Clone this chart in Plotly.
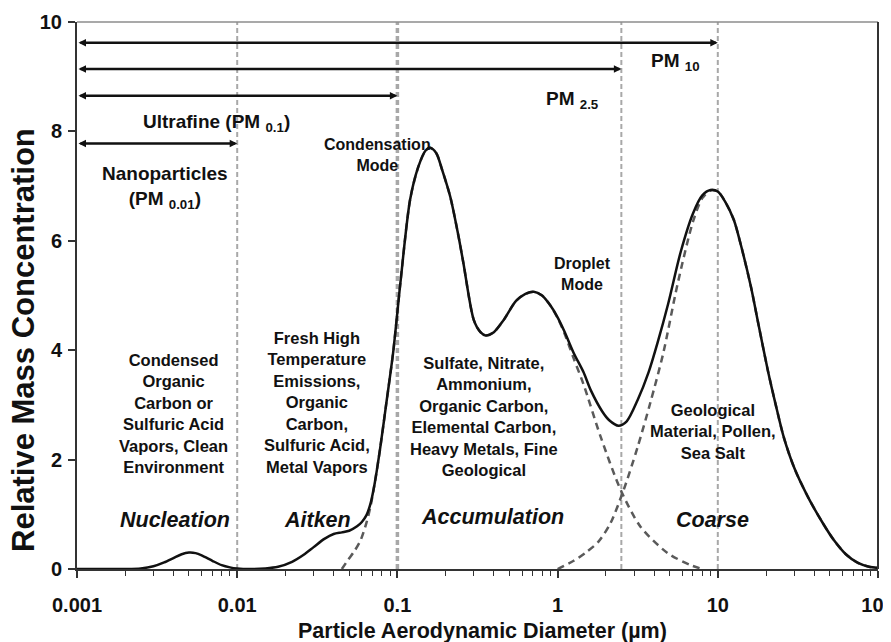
import numpy as np
import plotly.graph_objects as go

# ---------------- data ----------------
# total relative mass concentration (solid curve)
total_d = [0.001, 0.002, 0.0025, 0.003, 0.0035, 0.004, 0.0045, 0.005, 0.0055, 0.006,
           0.007, 0.008, 0.009, 0.01, 0.012, 0.015, 0.018, 0.022, 0.026, 0.03,
           0.035, 0.04, 0.045, 0.05, 0.056, 0.06, 0.064, 0.068, 0.072, 0.078,
           0.085, 0.094, 0.1, 0.105, 0.12, 0.135, 0.15, 0.16, 0.175, 0.19,
           0.214, 0.24, 0.258, 0.3, 0.33, 0.355, 0.4, 0.46, 0.55, 0.63,
           0.71, 0.8, 0.9, 1.0, 1.1, 1.26, 1.45, 1.61, 1.9, 2.1,
           2.4, 2.7, 3.16, 3.7, 4.2, 4.9, 5.87, 7, 8, 9,
           10, 11.2, 12.6, 14, 16.1, 18, 20.5, 23, 25.8, 30,
           36.5, 45, 53, 63, 75, 88, 100]
total_c = [0.0, 0.0, 0.01, 0.05, 0.12, 0.2, 0.27, 0.3, 0.29, 0.25,
           0.15, 0.07, 0.03, 0.01, 0.0, 0.01, 0.04, 0.13, 0.26, 0.40,
           0.55, 0.64, 0.67, 0.70, 0.78, 0.86, 0.98, 1.2, 1.55, 2.2,
           3.0, 3.95, 4.7, 5.3, 6.75, 7.35, 7.65, 7.7, 7.6, 7.3,
           6.8, 6.1, 5.6, 4.55, 4.33, 4.27, 4.33, 4.55, 4.9, 5.03,
           5.07, 5.0, 4.82, 4.6, 4.35, 3.95, 3.6, 3.27, 2.88, 2.72,
           2.62, 2.7, 3.09, 3.6, 4.13, 4.85, 5.8, 6.5, 6.83, 6.93,
           6.9, 6.7, 6.38, 5.9, 5.16, 4.45, 3.64, 3.0, 2.41, 1.85,
           1.32, 0.85, 0.53, 0.27, 0.11, 0.04, 0.02]

# accumulation mode (dashed)
accum_d = [0.045, 0.049, 0.054, 0.059, 0.064, 0.068, 0.072, 0.078, 0.085, 0.094,
           0.1, 0.105, 0.12, 0.135, 0.15, 0.16, 0.175, 0.19, 0.214, 0.24,
           0.258, 0.3, 0.33, 0.355, 0.4, 0.46, 0.55, 0.63, 0.71, 0.8,
           0.9, 1.0, 1.1, 1.26, 1.45, 1.86, 2.48, 3.3, 4.87, 6.78, 8.0]
accum_c = [0.0, 0.16, 0.33, 0.53, 0.84, 1.15, 1.55, 2.2, 3.0, 3.95,
           4.7, 5.3, 6.75, 7.35, 7.65, 7.7, 7.6, 7.3, 6.8, 6.1,
           5.6, 4.55, 4.33, 4.27, 4.33, 4.55, 4.9, 5.03, 5.07, 5.0,
           4.82, 4.59, 4.32, 3.85, 3.38, 2.41, 1.44, 0.77, 0.29, 0.07, 0.0]

# coarse mode (dashed)
coarse_d = [1.0, 1.26, 1.5, 1.8, 2.14, 2.58, 3.16, 3.8, 4.57, 5.6,
            7, 8, 9, 10, 11.2, 12.6, 14, 16.1, 18, 20.5,
            23, 25.8, 30, 36.5, 45, 53, 63, 75, 88, 100]
coarse_c = [0.0, 0.15, 0.3, 0.5, 0.84, 1.44, 2.23, 3.05, 3.95, 5.2,
            6.35, 6.78, 6.92, 6.9, 6.7, 6.38, 5.9, 5.16, 4.45, 3.64,
            3.0, 2.41, 1.85, 1.32, 0.85, 0.53, 0.27, 0.11, 0.04, 0.02]

# size-fraction cut points and their range arrows
cut_sizes = [0.01, 0.1, 2.5, 10]
arrow_start = 0.001
arrow_ends = [10, 2.5, 0.1, 0.01]
arrow_levels = [9.62, 9.14, 8.65, 7.78]

x_tickvals = [0.001, 0.01, 0.1, 1, 10, 100]
x_ticktext = ["0.001", "0.01", "0.1", "1", "10", "100"]
x_minor_ticks = [m * 10.0 ** e for e in range(-3, 2) for m in range(2, 10)]
y_tickvals = [0, 2, 4, 6, 8, 10]

mode_names = ["Nucleation", "Aitken", "Accumulation", "Coarse"]
mode_desc = [
    "Condensed<br>Organic<br>Carbon or<br>Sulfuric Acid<br>Vapors, Clean<br>Environment",
    "Fresh High<br>Temperature<br>Emissions,<br>Organic<br>Carbon,<br>Sulfuric Acid,<br>Metal Vapors",
    "Sulfate, Nitrate,<br>Ammonium,<br>Organic Carbon,<br>Elemental Carbon,<br>Heavy Metals, Fine<br>Geological",
    "Geological<br>Material, Pollen,<br>Sea Salt",
]
size_labels = ["PM <sub>10</sub>", "PM <sub>2.5</sub>", "Ultrafine (PM <sub>0.1</sub>)",
               "Nanoparticles<br>(PM <sub>0.01</sub>)"]
submode_labels = ["Condensation<br>Mode", "Droplet<br>Mode"]

# ---------------- styling ----------------
F = "Liberation Sans, Arial, sans-serif"
BLACK = "#111111"
GRID = "#a8a8a8"
DASHC = "#5a5a5a"

# the page body has an 8px margin; figure spans screen 8..891 x 8..642
# plot area on screen: x 77..878, y 22..569
W, H = 883, 634
L, R, T, B = 69, 13, 14, 73

fig = go.Figure()

# vertical cut lines
cut_widths = [2, 3.5, 2, 2]
for c, w in zip(cut_sizes, cut_widths):
    fig.add_trace(go.Scatter(x=[c, c], y=[0, 10], mode="lines",
                             line=dict(color=GRID, width=w, dash="5px,3px"),
                             hoverinfo="skip", showlegend=False))

# dashed mode curves
fig.add_trace(go.Scatter(x=accum_d, y=accum_c, mode="lines", line_shape="spline",
                         line=dict(color=DASHC, width=2.5, dash="7px,5px", smoothing=0.8),
                         showlegend=False))
fig.add_trace(go.Scatter(x=coarse_d, y=coarse_c, mode="lines", line_shape="spline",
                         line=dict(color=DASHC, width=2.5, dash="7px,5px", smoothing=0.8),
                         showlegend=False))
# total curve
fig.add_trace(go.Scatter(x=total_d, y=total_c, mode="lines", line_shape="spline",
                         line=dict(color=BLACK, width=2.5, smoothing=0.8),
                         showlegend=False))

ann = []
# range arrows
for e, lv in zip(arrow_ends, arrow_levels):
    ann.append(dict(x=np.log10(e), y=lv, ax=np.log10(arrow_start), ay=lv,
                    xref="x", yref="y", axref="x", ayref="y", text="",
                    showarrow=True, arrowside="end+start", arrowhead=2,
                    arrowsize=0.6, arrowwidth=2.5, arrowcolor=BLACK))

def txt(x, y, s, size, bold=True, italic=False, align="center"):
    ann.append(dict(x=np.log10(x), y=y, xref="x", yref="y", text=s, showarrow=False,
                    align=align, xanchor="center", yanchor="middle",
                    font=dict(family=F, size=size, color=BLACK,
                              weight="bold" if bold else "normal",
                              style="italic" if italic else "normal")))

# size-fraction labels
txt(5.47, 9.27, size_labels[0], 19)
txt(1.23, 8.57, size_labels[1], 19)
txt(0.00746, 8.15, size_labels[2], 19)
txt(0.00352, 6.98, size_labels[3], 19)
# sub-mode labels
txt(0.0747, 7.57, submode_labels[0], 16)
txt(1.43, 5.40, submode_labels[1], 16)
# descriptions
desc_x = [0.0040, 0.0315, 0.347, 9.27]
desc_y = [2.85, 3.04, 2.78, 2.52]
for x, y, s in zip(desc_x, desc_y, mode_desc):
    txt(x, y, s, 16.5)
# mode names
name_x = [0.00407, 0.0318, 0.391, 9.27]
name_y = [0.90, 0.90, 0.95, 0.90]
for x, y, s in zip(name_x, name_y, mode_names):
    txt(x, y, s, 21.5, italic=True)

# axis titles (positions in screen pixels relative to the plot area)
pw, ph = W - L - R, H - T - B
PX0, PY0 = 77, 569
ann.append(dict(x=(482.5 - PX0) / pw, y=(PY0 - 631) / ph, xref="paper", yref="paper",
                text="Particle Aerodynamic Diameter (µm)", showarrow=False,
                xanchor="center", yanchor="middle",
                font=dict(family=F, size=21.5, color=BLACK, weight="bold")))
ann.append(dict(x=(23 - PX0) / pw, y=(PY0 - 340) / ph, xref="paper", yref="paper",
                text="Relative Mass Concentration", showarrow=False, textangle=-90,
                xanchor="center", yanchor="middle",
                font=dict(family=F, size=31, color=BLACK, weight="bold")))

AX = "#333333"
tickfont = dict(family=F, size=20, color=BLACK, weight="bold")
minor_out = dict(tickmode="array", tickvals=x_minor_ticks, ticks="outside", ticklen=5,
                 tickwidth=1.2, tickcolor=AX, showgrid=False)
minor_in = dict(minor_out, ticks="inside")
fig.update_layout(
    width=W, height=H, margin=dict(l=L, r=R, t=T, b=B, autoexpand=False),
    paper_bgcolor="white", plot_bgcolor="white",
    xaxis=dict(type="log", range=[-3, 2], tickvals=x_tickvals, ticktext=x_ticktext,
               ticks="outside", ticklen=7, tickwidth=1.5, tickcolor=AX, minor=minor_out,
               showline=True, linecolor=AX, linewidth=2, showgrid=False, zeroline=False,
               tickfont=tickfont, ticklabelstandoff=10, ticklabeloverflow="allow",
               automargin=False),
    xaxis2=dict(type="log", range=[-3, 2], overlaying="x", anchor="y", side="bottom",
                tickvals=x_tickvals, ticks="inside", ticklen=7, tickwidth=1.5, tickcolor=AX,
                minor=minor_in,
                showticklabels=False, showgrid=False, zeroline=False, showline=False,
                automargin=False),
    yaxis=dict(range=[0, 10], tickvals=y_tickvals, ticks="outside", ticklen=7,
               tickwidth=1.5, tickcolor=AX, showline=True, linecolor=AX, linewidth=2,
               showgrid=False, zeroline=False, tickfont=tickfont, ticklabelstandoff=2,
               automargin=False),
    yaxis2=dict(range=[0, 10], overlaying="y", anchor="x", side="left",
                tickvals=y_tickvals, ticks="inside", ticklen=7, tickwidth=1.5,
                tickcolor=AX, showticklabels=False, showgrid=False, zeroline=False,
                showline=False, automargin=False),
    annotations=ann,
    shapes=[
        dict(type="line", xref="paper", yref="paper", x0=0, x1=1, y0=1, y1=1,
             line=dict(color="#8c8c8c", width=1.5)),
        dict(type="line", xref="paper", yref="paper", x0=1, x1=1, y0=0, y1=1,
             line=dict(color=AX, width=2)),
    ],
)

fig.write_html("out.html")
